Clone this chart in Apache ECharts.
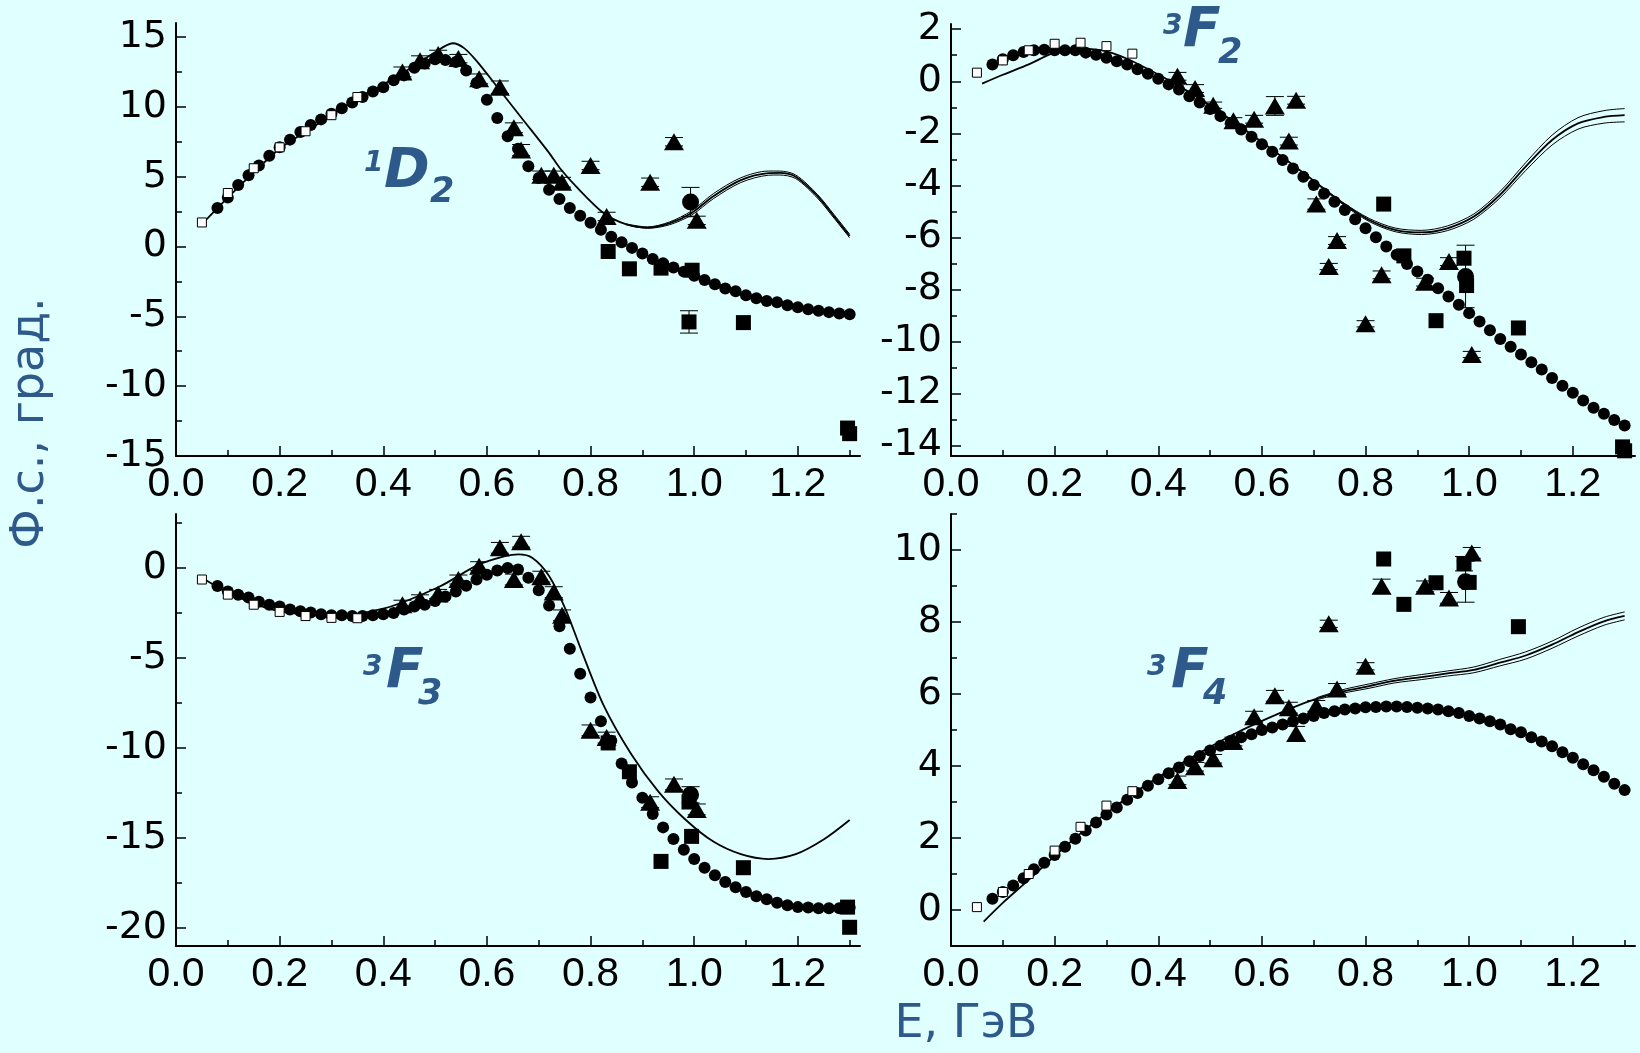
<!DOCTYPE html>
<html>
<head>
<meta charset="utf-8">
<script src="https://cdn.jsdelivr.net/npm/echarts@6/dist/echarts.min.js"></script>
<style>
html,body{margin:0;padding:0;background:#e0ffff;}
#c{width:1640px;height:1053px;}
</style>
</head>
<body>
<div id="c"></div>
<script>
// ---------- axis ticks / labels ----------
const X_MAJOR = [0, 0.2, 0.4, 0.6, 0.8, 1.0, 1.2];
const X_MINOR = [0.1, 0.3, 0.5, 0.7, 0.9, 1.1, 1.3];
const Y1_MAJOR = [-15, -10, -5, 0, 5, 10, 15];
const Y1_MINOR = [-12.5, -7.5, -2.5, 2.5, 7.5, 12.5];
const Y2_MAJOR = [-14, -12, -10, -8, -6, -4, -2, 0, 2];
const Y2_MINOR = [-13, -11, -9, -7, -5, -3, -1, 1];
const Y3_MAJOR = [-20, -15, -10, -5, 0];
const Y3_MINOR = [-17.5, -12.5, -7.5, -2.5, 2.5];
const Y4_MAJOR = [0, 2, 4, 6, 8, 10];
const Y4_MINOR = [-1, 1, 3, 5, 7, 9, 11];

// ---------- data ----------
// dense phase-shift analysis (filled small circles)
const E_DOTS = [0.08,0.10,0.12,0.14,0.16,0.18,0.20,0.22,0.24,0.26,0.28,0.30,0.32,0.34,0.36,0.38,0.40,0.42,0.44,0.46,0.48,0.50,0.52,0.54,0.56,0.58,0.60,0.62,0.64,0.66,0.68,0.70,0.72,0.74,0.76,0.78,0.80,0.82,0.84,0.86,0.88,0.90,0.92,0.94,0.96,0.98,1.00,1.02,1.04,1.06,1.08,1.10,1.12,1.14,1.16,1.18,1.20,1.22,1.24,1.26,1.28,1.30];
const D2_DOTS = [2.75,3.5,4.4,5.1,5.8,6.5,7.1,7.65,8.2,8.7,9.1,9.5,9.9,10.3,10.7,11.1,11.4,11.9,12.25,12.8,13.1,13.4,13.35,13.2,12.6,11.7,10.5,9.2,7.9,7.0,5.75,4.9,4.07,3.4,2.75,2.2,1.7,1.2,0.7,0.3,-0.1,-0.5,-0.9,-1.2,-1.5,-1.8,-2.1,-2.4,-2.7,-3.0,-3.2,-3.5,-3.7,-3.9,-4.0,-4.2,-4.35,-4.5,-4.6,-4.7,-4.8,-4.85];
const F2_DOTS = [0.64,0.85,1.0,1.12,1.19,1.21,1.19,1.19,1.19,1.1,1.02,0.9,0.77,0.64,0.46,0.29,0.1,-0.12,-0.32,-0.58,-0.82,-1.07,-1.34,-1.6,-1.85,-2.13,-2.42,-2.71,-3.03,-3.35,-3.67,-3.99,-4.31,-4.63,-4.95,-5.3,-5.65,-5.99,-6.35,-6.67,-7.02,-7.31,-7.63,-7.95,-8.27,-8.59,-8.91,-9.23,-9.57,-9.9,-10.2,-10.5,-10.8,-11.08,-11.4,-11.7,-11.97,-12.27,-12.55,-12.78,-13.02,-13.23];
const F3_DOTS = [-1.0,-1.3,-1.48,-1.64,-1.88,-2.04,-2.14,-2.3,-2.4,-2.47,-2.57,-2.63,-2.63,-2.67,-2.67,-2.63,-2.57,-2.5,-2.3,-2.14,-2.04,-1.84,-1.58,-1.3,-0.98,-0.64,-0.38,-0.14,0.0,-0.08,-0.54,-1.24,-2.08,-3.23,-4.49,-5.87,-7.19,-8.52,-9.6,-10.86,-11.92,-12.77,-13.67,-14.41,-15.05,-15.65,-16.17,-16.65,-17.07,-17.45,-17.74,-18.0,-18.24,-18.4,-18.6,-18.74,-18.84,-18.86,-18.9,-18.9,-18.9,-18.86];
const F4_DOTS = [0.31,0.5,0.68,0.88,1.13,1.31,1.53,1.76,1.98,2.21,2.43,2.65,2.85,3.06,3.25,3.45,3.63,3.8,3.96,4.13,4.28,4.43,4.56,4.7,4.8,4.88,5.0,5.07,5.15,5.24,5.32,5.39,5.47,5.52,5.57,5.6,5.63,5.64,5.65,5.65,5.64,5.62,5.6,5.57,5.52,5.47,5.39,5.32,5.24,5.15,5.02,4.94,4.8,4.68,4.55,4.38,4.23,4.05,3.88,3.7,3.51,3.33];

// low-energy open squares
const E_OPEN = [0.05,0.10,0.15,0.20,0.25,0.30,0.35];
const D2_OPEN = [1.72,3.83,5.6,7.1,8.25,9.4,10.7];
const F2_OPEN = [0.33,0.8,1.19,1.44,1.48,1.35,1.06];
const F3_OPEN = [-0.64,-1.48,-2.04,-2.44,-2.67,-2.77,-2.79];
const F4_OPEN = [0.08,0.5,1.0,1.65,2.31,2.9,3.3];

// triangles (with errors)
const E_TRI = [0.437,0.471,0.506,0.545,0.585,0.625,0.652,0.666,0.705,0.729,0.745,0.800,0.831,0.915,0.961,1.005];
const D2_TRI = [12.5,13.3,13.75,13.45,12.0,11.4,8.5,6.9,5.1,5.1,4.6,5.8,2.15,4.6,7.5,1.87];
const D2_TRI_ERR = [0.35,0.35,0.3,0.3,0.35,0.45,0.35,0.4,0.3,0.3,0.35,0.3,0.3,0.3,0.3,0.3];
const F2_TRI = [0.19,-0.28,-0.92,-1.52,-1.46,-0.95,-2.3,-0.73,-4.72,-7.12,-6.12,-9.32,-7.44,-7.72,-6.93,-10.5];
const F2_TRI_ERR = [0.15,0.15,0.12,0.12,0.15,0.36,0.15,0.15,0.2,0.12,0.15,0.12,0.15,0.15,0.15,0.12];
const F3_TRI = [-2.04,-1.74,-1.44,-0.64,0.1,1.12,-0.64,1.46,-0.48,-1.34,-2.63,-9.02,-9.42,-13.01,-12.02,-13.41];
const F3_TRI_ERR = [0.25,0.25,0.25,0.25,0.25,0.3,0.3,0.3,0.3,0.3,0.3,0.3,0.3,0.3,0.3,0.3];
const F4_TRI = [3.6,3.98,4.2,4.68,5.37,5.95,5.62,4.9,5.67,7.95,6.14,6.77,8.99,8.99,8.67,9.92];
const F4_TRI_ERR = [0.12,0.12,0.12,0.12,0.15,0.15,0.15,0.2,0.15,0.1,0.15,0.1,0.2,0.15,0.15,0.15];

// filled squares
const D2_SQ_E = [0.834,0.875,0.936,0.996,0.99,1.095,1.296,1.30];
const D2_SQ = [-0.36,-1.6,-1.55,-1.7,-5.4,-5.45,-13.0,-13.4];
const D2_SQ_ERR = [0,0,0,0,0.8,0,0,0];
const F2_SQ_E = [0.835,0.874,0.936,0.99,0.995,1.095,1.296,1.30];
const F2_SQ = [-4.72,-6.71,-9.2,-6.8,-7.85,-9.48,-14.05,-14.2];
const F2_SQ_ERR = [0,0,0,0,0,0,0,0];
const F3_SQ_E = [0.834,0.875,0.936,0.995,0.99,1.095,1.296,1.30];
const F3_SQ = [-9.72,-11.32,-16.3,-14.91,-13.0,-16.65,-18.84,-19.96];
const F3_SQ_ERR = [0,0,0,0,0,0,0,0];
const F4_SQ_E = [0.835,0.874,0.936,0.99,1.0,1.095];
const F4_SQ = [9.75,8.49,9.09,9.62,9.1,7.87];
const F4_SQ_ERR = [0,0,0,0.2,0,0];

// large filled circle at 1 GeV
const E_CIRC = [0.993];
const D2_CIRC = [3.18];   const D2_CIRC_ERR = [1.05];
const F2_CIRC = [-7.5];   const F2_CIRC_ERR = [1.2];
const F3_CIRC = [-12.6];  const F3_CIRC_ERR = [0.45];
const F4_CIRC = [9.12];   const F4_CIRC_ERR = [0.57];

// theory curves
const D2_TH_E = [0.05,0.1,0.15,0.2,0.25,0.3,0.35,0.4,0.45,0.5,0.534,0.556,0.582,0.614,0.667,0.72,0.741,0.772,0.825,0.868,0.91,0.952,0.995,1.037,1.09,1.143,1.164,1.196,1.238,1.27,1.30];
const D2_TH = [1.6,3.5,5.3,7.0,8.2,9.4,10.6,11.6,12.7,13.9,14.55,14.2,13.2,11.7,9.2,6.7,5.6,4.3,2.4,1.6,1.35,1.65,2.4,3.6,4.75,5.25,5.27,5.0,3.6,2.15,0.75];
const D2_BAND_E = [0.868,0.91,0.952,0.995,1.037,1.09,1.143,1.164,1.196,1.238,1.27,1.30];
const D2_UP = [1.62,1.4,1.75,2.55,3.78,4.92,5.4,5.4,5.12,3.72,2.28,0.88];
const D2_LO = [1.56,1.3,1.55,2.25,3.42,4.58,5.1,5.12,4.86,3.46,2.02,0.62];

const F2_TH_E = [0.06,0.1,0.15,0.2,0.25,0.3,0.353,0.454,0.555,0.656,0.706,0.756,0.807,0.857,0.908,0.958,1.009,1.059,1.109,1.16,1.21,1.26,1.30];
const F2_TH = [-0.09,0.25,0.65,1.1,1.25,1.15,0.74,-0.35,-1.69,-3.16,-3.92,-4.69,-5.33,-5.71,-5.81,-5.65,-5.2,-4.37,-3.28,-2.26,-1.62,-1.37,-1.3];
const F2_BAND_E = [0.706,0.756,0.807,0.857,0.908,0.958,1.009,1.059,1.109,1.16,1.21,1.26,1.30];
const F2_UP = [-3.9,-4.65,-5.27,-5.64,-5.73,-5.56,-5.1,-4.25,-3.13,-2.07,-1.4,-1.13,-1.05];
const F2_LO = [-3.94,-4.73,-5.39,-5.78,-5.89,-5.74,-5.3,-4.49,-3.43,-2.45,-1.84,-1.61,-1.56];

const F3_TH_E = [0.05,0.106,0.19,0.296,0.402,0.508,0.582,0.635,0.661,0.688,0.72,0.751,0.783,0.825,0.878,0.931,0.984,1.037,1.09,1.143,1.196,1.249,1.30];
const F3_TH = [-0.54,-1.44,-2.34,-2.63,-2.24,-1.04,0.16,0.66,0.76,0.56,-0.44,-2.24,-4.63,-7.62,-10.32,-12.42,-14.0,-15.2,-15.9,-16.17,-15.9,-15.1,-14.0];

const F4_TH_E = [0.063,0.1,0.151,0.2,0.252,0.353,0.454,0.555,0.656,0.706,0.756,0.807,0.857,0.908,0.958,1.009,1.059,1.109,1.16,1.21,1.26,1.30];
const F4_TH = [-0.32,0.2,0.85,1.5,2.15,3.25,4.15,4.95,5.6,5.87,6.07,6.22,6.37,6.47,6.57,6.67,6.87,7.07,7.37,7.72,8.02,8.17];
const F4_BAND_E = [0.706,0.756,0.807,0.857,0.908,0.958,1.009,1.059,1.109,1.16,1.21,1.26,1.30];
const F4_UP = [5.9,6.12,6.28,6.43,6.54,6.64,6.75,6.96,7.17,7.47,7.83,8.13,8.28];
const F4_LO = [5.84,6.02,6.16,6.31,6.4,6.5,6.59,6.78,6.97,7.27,7.61,7.91,8.06];

// ---------- build ----------
const BLUE = '#2e5a8b';
const zip = (xs, ys) => xs.map((x, i) => [x, ys[i]]);
const zip3 = (xs, ys, es) => xs.map((x, i) => [x, ys[i], es[i]]);

const panels = [
  { grid:{left:176, top:23, width:684, height:433}, ymin:-15, ymax:16, ymaj:Y1_MAJOR, ymin2:Y1_MINOR,
    dots:D2_DOTS, open:D2_OPEN, tri:D2_TRI, triErr:D2_TRI_ERR, sqE:D2_SQ_E, sq:D2_SQ, sqErr:D2_SQ_ERR,
    circ:D2_CIRC, circErr:D2_CIRC_ERR, thE:D2_TH_E, th:D2_TH, bandE:D2_BAND_E, up:D2_UP, lo:D2_LO },
  { grid:{left:951, top:24, width:684, height:432}, ymin:-14.4, ymax:2.2, ymaj:Y2_MAJOR, ymin2:Y2_MINOR,
    dots:F2_DOTS, open:F2_OPEN, tri:F2_TRI, triErr:F2_TRI_ERR, sqE:F2_SQ_E, sq:F2_SQ, sqErr:F2_SQ_ERR,
    circ:F2_CIRC, circErr:F2_CIRC_ERR, thE:F2_TH_E, th:F2_TH, bandE:F2_BAND_E, up:F2_UP, lo:F2_LO },
  { grid:{left:176, top:514, width:684, height:432}, ymin:-21, ymax:3, ymaj:Y3_MAJOR, ymin2:Y3_MINOR,
    dots:F3_DOTS, open:F3_OPEN, tri:F3_TRI, triErr:F3_TRI_ERR, sqE:F3_SQ_E, sq:F3_SQ, sqErr:F3_SQ_ERR,
    circ:F3_CIRC, circErr:F3_CIRC_ERR, thE:F3_TH_E, th:F3_TH, bandE:null },
  { grid:{left:951, top:514, width:684, height:432}, ymin:-1, ymax:11, ymaj:Y4_MAJOR, ymin2:Y4_MINOR,
    dots:F4_DOTS, open:F4_OPEN, tri:F4_TRI, triErr:F4_TRI_ERR, sqE:F4_SQ_E, sq:F4_SQ, sqErr:F4_SQ_ERR,
    circ:F4_CIRC, circErr:F4_CIRC_ERR, thE:F4_TH_E, th:F4_TH, bandE:F4_BAND_E, up:F4_UP, lo:F4_LO }
];

const X_LABEL_FONT = {color:'#000', fontFamily:'Liberation Sans', fontSize:41};
const Y_LABEL_FONT = {color:'#000', fontFamily:'DejaVu Sans', fontSize:38};
const grids = [], xAxes = [], yAxes = [], series = [];

panels.forEach((p, i) => {
  grids.push(Object.assign({containLabel:false, outerBoundsMode:'none'}, p.grid));
});
// main axes
panels.forEach((p, i) => {
  xAxes.push({type:'value', gridIndex:i, min:0, max:1.32, position:'bottom',
    axisLine:{show:true, onZero:false, lineStyle:{color:'#000', width:2}},
    axisTick:{show:true, inside:true, length:10, customValues:X_MAJOR, lineStyle:{color:'#000', width:1.5}},
    axisLabel:Object.assign({show:true, margin:8, customValues:X_MAJOR, formatter:v => Number(v).toFixed(1)}, X_LABEL_FONT),
    splitLine:{show:false}});
  yAxes.push({type:'value', gridIndex:i, min:p.ymin, max:p.ymax, position:'left',
    axisLine:{show:true, onZero:false, lineStyle:{color:'#000', width:2}},
    axisTick:{show:true, inside:true, length:10, customValues:p.ymaj, lineStyle:{color:'#000', width:1.5}},
    axisLabel:Object.assign({show:true, margin:9, customValues:p.ymaj, formatter:v => String(v)}, Y_LABEL_FONT),
    splitLine:{show:false}});
});
// minor-tick axes
panels.forEach((p, i) => {
  xAxes.push({type:'value', gridIndex:i, min:0, max:1.32, position:'bottom',
    axisLine:{show:false, onZero:false},
    axisTick:{show:true, inside:true, length:6, customValues:X_MINOR, lineStyle:{color:'#000', width:1.5}},
    axisLabel:{show:false}, splitLine:{show:false}});
  yAxes.push({type:'value', gridIndex:i, min:p.ymin, max:p.ymax, position:'left',
    axisLine:{show:false, onZero:false},
    axisTick:{show:true, inside:true, length:6, customValues:p.ymin2, lineStyle:{color:'#000', width:1.5}},
    axisLabel:{show:false}, splitLine:{show:false}});
});

function errSeries(i, data) {
  return {type:'custom', xAxisIndex:i, yAxisIndex:i, z:3, silent:true, clip:false,
    data: data.filter(d => d[2] > 0),
    encode:{x:0, y:1},
    renderItem:(params, api) => {
      const x = api.value(0), y = api.value(1), e = api.value(2);
      const t = api.coord([x, y + e]), b = api.coord([x, y - e]);
      const hw = 9, st = {stroke:'#000', lineWidth:1};
      return {type:'group', children:[
        {type:'line', shape:{x1:t[0], y1:t[1], x2:b[0], y2:b[1]}, style:st},
        {type:'line', shape:{x1:t[0]-hw, y1:t[1], x2:t[0]+hw, y2:t[1]}, style:st},
        {type:'line', shape:{x1:b[0]-hw, y1:b[1], x2:b[0]+hw, y2:b[1]}, style:st}
      ]};
    }};
}

panels.forEach((p, i) => {
  const base = {xAxisIndex:i, yAxisIndex:i, silent:true};
  const solid = {color:'#000', opacity:1};
  series.push(Object.assign({type:'line', data:zip(p.thE, p.th), smooth:0.3, symbol:'none',
    lineStyle:{color:'#000', width:1.8}, z:1}, base));
  if (p.bandE) {
    series.push(Object.assign({type:'line', data:zip(p.bandE, p.up), smooth:0.3, symbol:'none',
      lineStyle:{color:'#000', width:1}, z:1}, base));
    series.push(Object.assign({type:'line', data:zip(p.bandE, p.lo), smooth:0.3, symbol:'none',
      lineStyle:{color:'#000', width:1}, z:1}, base));
  }
  series.push(Object.assign({type:'scatter', data:zip(E_DOTS, p.dots), symbol:'circle', symbolSize:12,
    itemStyle:solid, z:2, clip:false}, base));
  series.push(errSeries(i, zip3(E_TRI, p.tri, p.triErr)));
  series.push(errSeries(i, zip3(p.sqE, p.sq, p.sqErr)));
  series.push(errSeries(i, zip3(E_CIRC, p.circ, p.circErr)));
  series.push(Object.assign({type:'scatter', data:zip(E_OPEN, p.open), symbol:'rect', symbolSize:9,
    itemStyle:{color:'#fff', borderColor:'#000', borderWidth:1, opacity:1}, z:4, clip:false}, base));
  series.push(Object.assign({type:'scatter', data:zip(E_TRI, p.tri), symbol:'triangle', symbolSize:[20,17],
    itemStyle:solid, z:4, clip:false}, base));
  series.push(Object.assign({type:'scatter', data:zip(p.sqE, p.sq), symbol:'rect', symbolSize:15,
    itemStyle:solid, z:4, clip:false}, base));
  series.push(Object.assign({type:'scatter', data:zip(E_CIRC, p.circ), symbol:'circle', symbolSize:17,
    itemStyle:solid, z:4, clip:false}, base));
});

// panel wave labels
const MAIN_FONT = 'italic bold 55px "DejaVu Sans"';
const SUP_FONT = 'italic bold 28px "DejaVu Sans"';
const SUB_FONT = 'italic bold 35px "DejaVu Sans"';
function waveLabel(sup, main, sub, sx, sy, mx, my, bx, by) {
  const st = (t, f) => ({text:t, font:f, fill:BLUE, align:'left', verticalAlign:'middle'});
  return [
    {type:'text', x:sx, y:sy, style:st(sup, SUP_FONT), z:10},
    {type:'text', x:mx, y:my, style:st(main, MAIN_FONT), z:10},
    {type:'text', x:bx, y:by, style:st(sub, SUB_FONT), z:10}
  ];
}

const graphic = [
  {type:'text', x:31, y:423, rotation:Math.PI/2, z:10,
   style:{text:'Ф.с., град.', font:'46px "DejaVu Sans"', fill:BLUE, align:'center', verticalAlign:'middle'}},
  {type:'text', x:966, y:1025, z:10,
   style:{text:'E, ГэВ', font:'46px "DejaVu Sans"', fill:BLUE, align:'center', verticalAlign:'middle'}}
].concat(
  waveLabel('1', 'D', '2', 364, 164, 384, 173, 430, 193),
  waveLabel('3', 'F', '2', 1163, 27, 1183, 32, 1218, 54),
  waveLabel('3', 'F', '3', 363, 668, 386, 673, 418, 695),
  waveLabel('3', 'F', '4', 1147, 668, 1171, 673, 1203, 695)
);

const chart = echarts.init(document.getElementById('c'), null, {renderer:'canvas'});
chart.setOption({
  backgroundColor:'#e0ffff',
  animation:false,
  grid:grids, xAxis:xAxes, yAxis:yAxes, series:series, graphic:graphic
});
</script>
</body>
</html>
